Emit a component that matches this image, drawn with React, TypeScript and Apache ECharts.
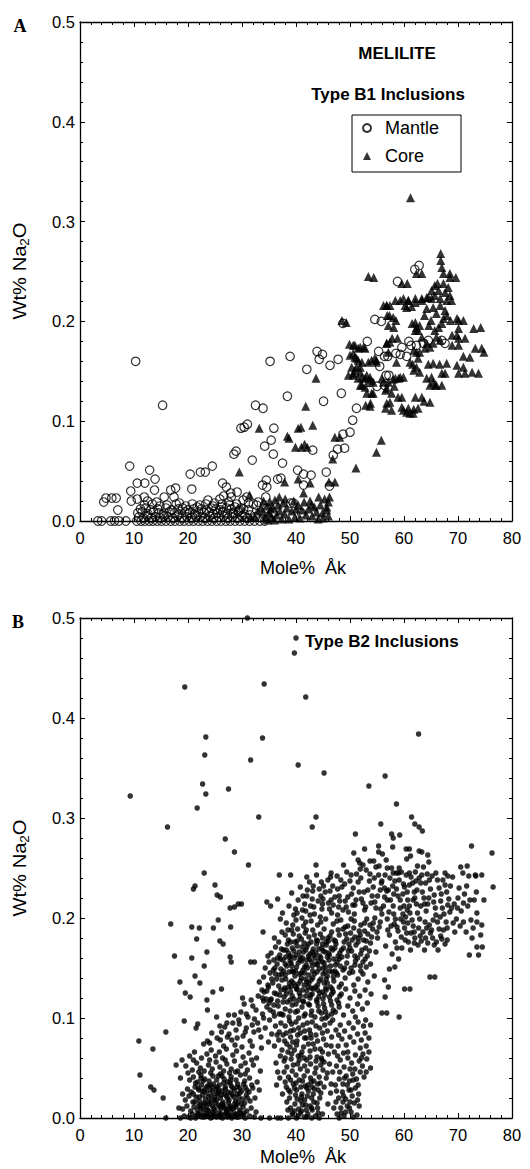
import React, { useEffect, useRef } from "react";
import * as echarts from "echarts";

const FONT = "'Liberation Sans', Arial, Helvetica, sans-serif";

const xTickValues = [0, 10, 20, 30, 40, 50, 60, 70, 80];
const yTickValues = [0, 0.1, 0.2, 0.3, 0.4, 0.5];

// Panel A, mantle (open circles): dense band near 0 wt%
const aMantleBand = [
  10.5,0, 11.3,0, 12.0,0, 12.8,0, 13.5,0, 14.3,0, 15.1,0, 15.9,0, 16.8,0, 17.6,0, 18.5,0, 19.3,0, 20.2,0,
  21.0,0, 21.9,0, 22.7,0, 23.6,0, 24.4,0, 25.3,0, 26.1,0, 27.0,0, 27.8,0, 28.7,0, 29.6,0, 30.5,0, 31.4,0,
  10.9,.004, 11.7,.003, 12.5,.005, 13.2,.003, 14.0,.004, 14.9,.003, 15.6,.005, 16.3,.004, 17.2,.003, 18.0,.005,
  18.9,.003, 19.8,.004, 20.6,.003, 21.4,.005, 22.3,.004, 23.1,.003, 24.0,.005, 24.8,.003, 25.7,.004, 26.6,.005,
  27.4,.003, 28.2,.004, 29.1,.003, 30.0,.005, 31.0,.003,
  10.7,.008, 11.5,.009, 12.6,.007, 13.6,.009, 14.6,.008, 15.4,.007, 16.5,.009, 17.5,.008, 18.3,.007, 19.4,.009,
  20.3,.008, 21.2,.007, 22.0,.009, 23.0,.008, 23.9,.009, 24.7,.007, 25.5,.008, 26.4,.009, 27.3,.007, 28.4,.008,
  29.3,.009, 30.4,.007,
  11.2,.012, 12.2,.013, 13.1,.011, 14.4,.012, 15.9,.013, 17.0,.011, 18.2,.012, 19.0,.013, 20.0,.011, 21.1,.012,
  21.7,.014, 22.5,.012, 23.4,.011, 24.3,.013, 25.2,.012, 26.0,.011, 27.1,.013, 28.0,.012, 29.8,.013, 31.2,.011,
  11.9,.016, 13.4,.017, 14.8,.015, 16.1,.016, 17.8,.017, 19.6,.015, 20.8,.017, 22.2,.016, 23.3,.017, 24.6,.015,
  26.3,.017, 27.7,.016, 29.0,.017,
];

// Panel A, mantle: scattered points
const aMantleScatter = [
  10.3,.160, 15.3,.116, 9.2,.055, 12.9,.051, 4.4,.019, 4.8,.023, 5.9,.023, 6.7,.023, 7.0,.011,
  3.3,0, 4.0,0, 5.7,0, 6.4,0, 7.2,0, 8.5,0,
  9.4,.030, 10.6,.038, 12.0,.038, 13.9,.042, 13.8,.031, 9.5,.020, 10.6,.022, 11.9,.024, 12.5,.020, 14.2,.019,
  15.6,.024, 16.8,.031, 17.7,.033, 20.4,.047, 20.7,.032, 22.3,.049, 23.2,.049, 24.5,.055, 17.4,.024, 18.4,.018,
  26.4,.038, 27.1,.034, 27.9,.028, 29.1,.029, 28.5,.067, 28.9,.070, 29.8,.093, 30.4,.094, 31.0,.097, 31.9,.061,
  32.5,.116, 33.9,.113, 34.2,.075, 35.4,.081, 35.9,.093, 35.8,.067, 37.5,.058, 35.2,.160, 38.4,.125, 38.9,.165,
  42.0,.152, 43.9,.170, 44.3,.162, 44.9,.167, 46.3,.156, 47.8,.162, 45.1,.120, 48.4,.128, 48.7,.087, 50.0,.089,
  47.7,.072, 49.0,.073, 46.9,.066, 50.5,.101, 51.2,.113, 48.7,.198, 53.2,.180, 54.6,.202, 55.8,.200, 55.3,.170,
  55.5,.155, 56.4,.165, 56.7,.146, 53.0,.139, 55.0,.135, 58.5,.168, 60.5,.165, 61.3,.176, 58.8,.240, 62.0,.252,
  62.8,.256, 57.2,.146, 56.4,.136, 53.7,.139, 62.3,.176, 63.6,.178, 64.5,.181, 67.0,.181, 67.6,.178,
  40.3,.051, 41.4,.047, 42.8,.046, 43.1,.071, 45.6,.049, 34.5,.041, 33.8,.036, 34.6,.034, 34.4,.024, 36.6,.042,
  39.0,.018, 37.2,.043, 41.4,.036, 46.2,.035, 26.6,.025, 27.5,.019, 28.7,.014, 30.2,.021, 31.2,.018, 32.7,.016,
  34.6,.013, 35.8,.008, 39.5,.018, 41.0,.008, 23.7,.021, 24.9,.018, 25.9,.022, 26.2,.014, 28.0,.024, 29.4,.010,
  30.3,.012, 31.5,.006, 32.5,.004, 33.3,0, 34.2,0, 35.0,.003, 30.9,.024, 32.1,.017, 33.0,.019, 28.4,.007,
  29.6,.011, 32.3,0, 59.3,.167, 57.0,.165, 59.6,.174, 60.9,.180,
];

// Panel A, core (filled triangles)
const aCore = [
  54.4,.244, 60.6,.238, 63.3,.248, 66.8,.268, 66.8,.261, 67.0,.254, 67.3,.248, 68.5,.248, 69.6,.244, 61.2,.324,
  66.2,.238, 67.3,.238, 68.2,.234, 66.4,.231, 67.6,.229, 68.5,.226, 65.7,.226, 65.1,.223, 66.7,.223, 67.9,.221,
  68.8,.221, 64.2,.224, 63.3,.221, 62.1,.219, 60.8,.221, 59.3,.221, 64.2,.213, 61.4,.215, 60.5,.214, 65.4,.214,
  66.7,.216, 67.6,.211, 67.9,.206, 67.3,.203, 67.0,.198, 66.4,.194, 65.7,.191, 66.0,.184, 66.7,.181, 65.4,.178,
  64.8,.174, 64.2,.178, 63.3,.184, 62.6,.191, 62.9,.196, 62.1,.199, 62.3,.194, 57.4,.216, 57.3,.206, 58.0,.204,
  58.5,.201, 58.1,.194, 58.8,.183, 57.4,.179, 56.8,.178, 69.8,.203, 71.0,.201, 74.2,.194, 70.1,.193, 69.8,.186,
  71.3,.183, 70.1,.176, 74.4,.173, 74.8,.169, 72.2,.164, 71.0,.154, 71.3,.148, 73.8,.148, 67.9,.158, 67.6,.148,
  65.4,.158, 65.1,.144, 65.4,.139, 66.0,.136, 67.0,.136, 62.9,.169, 62.6,.163, 62.3,.154, 62.9,.149, 63.9,.173,
  50.6,.176, 51.5,.173, 52.5,.174, 50.9,.164, 51.5,.161, 51.9,.154, 50.9,.151, 50.6,.146, 52.2,.144, 51.9,.136,
  52.8,.143, 53.7,.144, 54.6,.163, 54.9,.159, 54.3,.139, 56.2,.139, 57.1,.139, 58.0,.142, 59.3,.144, 59.9,.144,
  56.8,.133, 57.7,.128, 57.4,.119, 57.7,.111, 59.6,.124, 60.8,.113, 60.5,.109, 61.7,.108, 62.6,.113, 63.3,.124,
  64.8,.119, 54.0,.128, 53.8,.118, 57.1,.169, 58.6,.159, 61.1,.159, 62.3,.169, 60.2,.216, 56.8,.216, 59.6,.238,
  62.3,.248, 65.7,.236, 65.1,.231, 64.5,.224, 53.4,.245, 68.5,.244, 66.0,.208, 65.0,.201, 63.8,.206, 64.6,.196,
  56.2,.216, 56.9,.206, 57.1,.196, 57.8,.183, 58.4,.221, 59.9,.223, 60.8,.221, 62.1,.223, 63.3,.223, 61.5,.198,
  62.1,.191, 61.8,.171, 61.6,.157, 61.8,.151, 64.5,.157, 64.2,.143, 64.8,.136, 65.8,.136, 66.6,.157, 67.0,.148,
  68.9,.176, 68.9,.186, 68.6,.201, 70.1,.201, 70.1,.183, 69.8,.156, 70.1,.148, 71.0,.165, 72.9,.193, 72.6,.149,
  73.2,.173, 58.4,.143, 59.0,.143, 58.2,.135, 58.9,.124, 59.6,.114, 59.9,.111, 61.1,.108, 61.8,.112, 62.1,.124,
  63.7,.120, 55.9,.143, 56.6,.131, 56.8,.118, 56.6,.113,
  49.3,.199, 48.5,.201, 50.9,.176, 51.9,.174, 52.8,.173, 50.6,.168, 51.2,.163, 52.2,.159, 51.2,.154, 50.6,.148,
  51.9,.149, 53.1,.146, 51.5,.143, 52.2,.136, 52.8,.134, 53.7,.141, 54.3,.128, 54.9,.161, 56.8,.178, 50.0,.166,
  49.9,.177, 49.7,.146, 50.3,.154, 52.9,.116, 53.1,.128, 53.4,.159, 54.0,.161,
  43.7,.143, 41.8,.115, 33.2,.093, 38.4,.085, 38.7,.083, 40.4,.093, 40.9,.094, 43.1,.096, 39.9,.074, 41.0,.074,
  41.6,.077, 42.1,.074, 29.5,.049, 37.9,.039, 40.4,.042, 42.6,.038, 41.4,.028, 46.1,.039, 47.2,.039, 51.1,.053,
  46.2,.024, 46.0,.019, 45.7,.011, 46.8,.062, 48.1,.084, 53.7,.115, 54.9,.069, 55.8,.081, 56.8,.216, 47.2,.084,
  31.4,.026, 31.6,.004, 32.4,.004, 32.9,.010, 33.5,.013, 33.9,.009, 34.2,.003, 34.6,.015, 35.0,.008, 35.2,.019,
  35.5,.004, 35.8,.013, 36.1,.021, 36.4,.006, 36.7,.016, 37.0,.010, 37.3,.002, 37.6,.018, 37.9,.007, 38.3,.013,
  38.7,.002, 39.2,.010, 39.8,.004, 40.4,.016, 40.7,.003, 41.1,.011, 41.5,.019, 41.9,.006, 42.3,.012, 42.6,.020,
  43.0,.005, 43.4,.014, 43.8,.009, 44.1,.002, 44.5,.016, 44.9,.008, 45.3,.022, 45.7,.014, 46.0,.005, 34.0,.020,
  34.8,.001, 36.0,.001, 38.0,.022, 39.6,.020, 40.0,.012, 42.9,.016, 44.2,.024, 45.0,.003, 35.3,.012, 36.9,.024,
];

// Panel B (Type B2), outliers and sparse points
const bSparse = [
  31.0,.500, 40.0,.480, 39.7,.465, 19.4,.431, 34.1,.434, 41.8,.421, 23.3,.381, 33.8,.380, 62.7,.384, 23.1,.363,
  31.6,.358, 40.4,.353, 45.2,.345, 56.5,.342, 22.7,.334, 23.3,.324, 27.5,.329, 53.5,.332, 9.3,.322, 21.7,.310,
  58.6,.314, 33.1,.301, 43.7,.301, 61.4,.301, 16.2,.291, 43.0,.291, 62.0,.294, 62.8,.291, 63.4,.287, 55.7,.294,
  26.9,.279, 28.6,.266, 51.0,.284, 57.7,.284, 58.0,.280, 59.2,.283, 57.9,.271, 55.3,.272, 55.3,.266, 52.7,.269,
  50.7,.265, 60.4,.269, 61.0,.269, 62.8,.267, 63.3,.266, 64.4,.263, 64.6,.256, 72.5,.272, 76.3,.265, 31.2,.253,
  43.7,.253, 48.8,.253, 70.5,.251, 70.9,.245, 72.0,.242, 73.2,.243, 23.0,.245, 36.9,.243, 39.0,.243, 46.5,.245,
  67.6,.245, 68.1,.242, 51.5,.258, 51.8,.255, 53.7,.257, 54.4,.257, 56.7,.258, 56.0,.264, 58.0,.245, 59.0,.245,
  60.5,.259, 61.2,.262,
  10.9,.077, 11.1,.043, 13.5,.069, 13.1,.031, 13.7,.028, 15.4,.020, 15.9,.086, 15.9,0, 16.8,.194, 17.5,.162,
  18.5,.136, 19.5,.125, 20.4,.121, 19.3,.097, 20.7,.191, 20.7,.160, 21.0,.229, 21.3,.232, 21.3,.142, 21.6,.179,
  22.1,.190, 22.2,.135, 23.0,.152, 23.5,.166, 24.7,.190, 25.0,.233, 25.6,.198, 25.4,.223, 26.0,.221, 26.2,.129,
  26.5,.174, 25.9,.177, 27.8,.210, 27.9,.191, 27.8,.161, 28.0,.156, 29.3,.214, 31.6,.156, 34.6,.216, 33.9,.186,
  23.5,.118, 24.6,.126, 25.3,.101, 27.5,.103, 28.6,.103, 30.1,.120, 21.8,.094, 21.5,.090, 23.6,.108, 23.6,.077,
  55.9,.105, 59.1,.101, 64.8,.141, 60.1,.129, 57.3,.149, 58.3,.151, 56.4,.138, 57.1,.131, 56.5,.121, 56.8,.105,
  61.1,.129, 65.7,.141, 67.0,.179, 72.1,.163, 73.8,.163, 74.5,.171, 73.5,.171, 74.2,.183, 73.5,.196, 74.4,.193,
  74.8,.218, 76.5,.231, 71.7,.252, 74.4,.243, 73.3,.242, 32.3,.156, 29.9,.214, 28.6,.211,
];

// Panel B, low cluster near 20-33 % Åk
const bLow = [
  18.6,0, 19.3,.002, 20.1,.001, 20.8,.004, 21.4,0, 22.0,.003, 22.6,.001, 23.1,.005, 23.7,.002, 24.2,0,
  24.8,.004, 25.3,.001, 25.9,.003, 26.4,0, 27.0,.005, 27.6,.002, 28.1,0, 28.7,.004, 29.3,.001, 29.9,.003,
  30.6,0, 31.4,.002, 32.3,.001, 33.5,0, 35.1,0, 36.6,0,
  19.0,.009, 19.8,.012, 20.5,.007, 21.1,.011, 21.7,.008, 22.3,.013, 22.8,.009, 23.4,.011, 23.9,.007, 24.5,.012,
  25.0,.008, 25.6,.013, 26.1,.009, 26.7,.011, 27.2,.007, 27.8,.012, 28.4,.009, 29.0,.013, 29.6,.008, 30.2,.011,
  30.9,.007, 31.7,.010, 32.6,.006,
  19.5,.018, 20.2,.022, 20.9,.016, 21.5,.021, 22.1,.017, 22.7,.023, 23.2,.019, 23.8,.016, 24.3,.022, 24.9,.018,
  25.4,.024, 26.0,.020, 26.5,.016, 27.1,.022, 27.6,.018, 28.2,.023, 28.8,.017, 29.4,.021, 30.1,.019, 30.8,.023,
  31.5,.017, 32.4,.020,
  19.9,.029, 20.6,.026, 21.3,.031, 22.0,.028, 22.5,.033, 23.0,.027, 23.6,.032, 24.1,.028, 24.7,.034, 25.2,.029,
  25.8,.033, 26.3,.027, 26.9,.031, 27.4,.026, 28.0,.032, 28.6,.028, 29.2,.034, 29.9,.027, 30.6,.031, 31.3,.026,
  32.0,.030, 33.2,.028,
  20.3,.038, 21.0,.041, 21.8,.036, 22.4,.043, 23.1,.039, 23.9,.037, 24.6,.042, 25.3,.038, 26.0,.044, 26.7,.039,
  27.3,.036, 28.0,.041, 28.9,.038, 29.7,.043, 30.5,.037, 31.4,.040, 32.8,.036, 18.6,.040,
  19.6,.052, 20.8,.048, 21.6,.055, 22.3,.050, 23.0,.047, 23.8,.053, 24.5,.049, 25.2,.056, 25.9,.051, 26.6,.047,
  27.2,.054, 28.0,.049, 28.8,.046, 29.8,.052, 31.0,.048, 32.1,.053, 33.4,.047,
  20.3,.062, 21.2,.066, 22.5,.060, 23.5,.064, 24.3,.068, 25.1,.062, 25.8,.066, 26.4,.060, 27.1,.069, 28.3,.063,
  29.0,.067, 30.2,.061, 31.3,.065, 32.7,.060, 18.9,.058, 17.8,.053,
  22.2,.005, 23.4,.003, 24.6,.006, 25.7,.005, 26.8,.003, 27.9,.006, 29.0,.004, 22.9,.015, 24.0,.014, 25.1,.015,
  26.3,.014, 27.5,.015, 28.6,.014, 23.5,.025, 24.6,.026, 25.6,.025, 26.8,.024, 27.9,.025, 29.1,.024, 22.1,.021,
  21.8,.004, 22.9,.002, 24.0,.003, 25.0,.002, 26.1,.004, 27.3,.001, 28.4,.002, 29.6,.006, 30.2,.003,
  21.3,.016, 22.4,.010, 23.6,.008, 24.8,.010, 25.9,.011, 27.0,.009, 28.1,.010, 29.3,.016, 30.5,.015,
  21.0,.024, 22.6,.027, 23.8,.021, 25.0,.021, 26.2,.023, 27.3,.020, 28.5,.021, 29.6,.025, 31.0,.020,
  21.4,.035, 22.8,.037, 24.0,.033, 25.4,.031, 26.6,.035, 27.8,.035, 29.1,.031, 30.3,.034, 31.8,.033,
  20.0,.045, 22.0,.046, 24.2,.045, 26.3,.042, 27.7,.045, 29.2,.047, 30.6,.044,
  21.0,.058, 24.0,.058, 26.9,.058, 28.6,.057, 30.6,.055, 31.8,.058, 19.0,.024, 18.3,.010, 20.5,0,
  21.5,.002, 23.0,.001, 24.5,.001, 26.0,.001, 27.5,.003, 29.0,.001, 30.4,.005, 22.0,.012, 23.2,.014, 24.3,.017,
  25.3,.018, 26.5,.013, 27.7,.010, 28.8,.011, 29.9,.014, 21.9,.030, 23.3,.030, 24.5,.031, 25.7,.028, 26.9,.029,
  28.3,.030, 29.6,.030, 30.9,.028, 22.4,.040, 25.6,.042, 27.9,.038,
];

// Panel B, band between the low cluster and the main cloud
const bMid = [
  24.0,.075, 25.4,.080, 26.2,.086, 26.8,.091, 27.6,.084, 28.1,.078, 28.9,.088, 29.5,.094, 30.2,.082, 30.8,.090,
  31.5,.077, 32.2,.086, 32.9,.095, 33.5,.081, 34.3,.090, 35.1,.098, 33.8,.104, 34.6,.111, 32.6,.108, 31.1,.101,
  29.8,.106, 30.4,.114, 31.7,.118, 33.0,.122, 34.1,.126, 35.4,.119, 35.8,.106, 27.2,.095, 25.9,.092, 24.4,.085,
  22.9,.074, 26.6,.072, 28.7,.073, 30.0,.071, 31.9,.072, 33.6,.070, 34.9,.076, 35.5,.084, 36.2,.092,
  26.0,.078, 27.3,.081, 29.1,.080, 30.6,.086, 31.9,.093, 33.1,.088, 34.0,.100, 32.3,.099, 30.8,.104, 29.4,.098,
  28.3,.095, 35.0,.115, 34.0,.117, 32.0,.112, 36.5,.083, 36.9,.104,
];

// Panel B, column at ~37-46 % Åk
const bCol1 = [
  37.2,0, 38.6,0, 39.4,.003, 40.1,0, 40.8,.005, 41.5,.001, 42.2,.004, 42.9,0, 43.6,.002, 44.3,0,
  39.0,.010, 39.8,.014, 40.5,.009, 41.2,.013, 41.9,.008, 42.6,.012, 43.3,.016, 44.0,.010, 38.3,.016, 40.2,.019,
  41.6,.018, 42.9,.020,
  37.5,.024, 38.2,.031, 38.9,.026, 39.5,.034, 40.1,.028, 40.6,.038, 41.1,.024, 41.7,.032, 42.3,.027, 42.8,.036,
  43.4,.029, 44.0,.034, 44.6,.025, 45.2,.031, 37.0,.040, 37.8,.046, 38.6,.041, 39.3,.047, 40.0,.043, 40.8,.049,
  41.5,.042, 42.1,.047, 42.7,.040, 43.5,.045, 44.3,.041, 45.0,.048, 36.4,.033,
  36.3,.055, 37.1,.062, 37.8,.057, 38.5,.066, 39.1,.059, 39.7,.068, 40.3,.054, 40.9,.063, 41.4,.071, 42.0,.058,
  42.6,.067, 43.2,.074, 43.9,.061, 44.5,.069, 45.2,.056, 36.0,.072, 36.8,.078, 37.6,.083, 38.3,.074, 39.0,.081,
  39.6,.088, 40.2,.077, 40.8,.085, 41.3,.093, 41.9,.080, 42.5,.088, 43.0,.096, 43.7,.083, 44.4,.090, 45.1,.079,
  45.8,.087, 38.0,.092, 38.8,.097, 40.0,.096, 37.2,.095, 46.0,.064, 45.6,.073, 46.3,.095,
  39.3,.005, 40.4,.002, 41.0,.007, 42.0,.001, 43.0,.008, 44.1,.005, 38.8,.020, 39.9,.023, 41.0,.021, 42.1,.022,
  43.2,.024, 44.4,.020, 38.0,.036, 39.0,.038, 40.0,.035, 41.2,.037, 42.2,.033, 43.3,.037, 44.5,.035, 38.3,.051,
  39.5,.053, 40.6,.058, 41.6,.052, 42.7,.054, 43.7,.050, 44.6,.053, 37.4,.068, 38.9,.071, 40.1,.073, 41.1,.066,
  42.3,.074, 43.5,.069, 44.9,.066, 36.9,.086, 38.2,.085, 39.4,.076, 40.5,.090, 41.6,.087, 42.8,.080, 44.0,.077,
  45.3,.093, 39.2,.094, 42.1,.095, 44.8,.099, 36.6,.046, 45.8,.045, 46.5,.034,
  38.5,.008, 39.7,.007, 40.9,.017, 41.8,.013, 42.9,.010, 43.9,.015, 38.6,.028, 39.7,.030, 40.9,.031, 42.0,.030,
  43.0,.031, 44.1,.028, 38.0,.060, 39.2,.064, 40.4,.062, 41.5,.060, 42.6,.061, 43.7,.057, 44.7,.060, 37.9,.077,
  39.0,.087, 40.3,.083, 41.6,.080, 42.7,.084, 43.7,.092, 44.9,.085, 45.5,.100, 37.6,.103, 38.9,.107, 40.3,.107,
  41.5,.102, 42.8,.103, 44.2,.107, 45.5,.106, 46.8,.098, 46.9,.108,
];

// Panel B, column at ~47-54 % Åk
const bCol2 = [
  47.6,.004, 48.3,.010, 48.9,.002, 49.5,.012, 50.2,.006, 50.8,.015, 51.3,.003, 47.9,.020, 48.6,.026, 49.2,.019,
  49.8,.028, 50.4,.022, 51.0,.030, 51.6,.024, 47.3,.033, 48.0,.039, 48.7,.034, 49.3,.042, 49.9,.037, 50.5,.044,
  51.2,.039, 51.9,.046, 52.6,.041, 46.8,.046, 47.5,.052, 48.2,.058, 48.9,.051, 49.6,.060, 50.3,.055, 51.0,.063,
  51.7,.057, 52.4,.064, 53.1,.059, 53.8,.050, 53.5,.066, 47.1,.066, 47.8,.072, 48.5,.079, 49.3,.073, 50.0,.081,
  50.7,.076, 51.4,.084, 52.1,.078, 52.8,.085, 53.5,.080, 46.6,.081, 47.4,.088, 48.2,.093, 49.0,.087, 49.8,.095,
  50.6,.090, 51.5,.096, 52.5,.092, 45.9,.014, 46.4,.025, 44.9,.004, 45.6,.040, 44.8,.058, 46.2,.054, 53.0,.072,
  53.8,.093,
  48.0,0, 49.2,.006, 50.6,.001, 48.7,.016, 50.0,.016, 51.7,.012, 47.5,.027, 49.5,.033, 50.9,.049, 52.3,.052,
  48.1,.046, 47.9,.083, 49.6,.066, 51.9,.070, 52.9,.098, 51.0,.101, 46.6,.104,
  47.0,.010, 48.4,.005, 49.9,.010, 51.4,.018, 47.4,.016, 48.8,.022, 50.2,.028, 51.5,.033, 49.0,.040, 50.6,.038,
  47.7,.062, 50.0,.049, 52.1,.060, 53.0,.046, 46.5,.072, 48.8,.065,
];

// Panel B, main cloud 0.10-0.20 wt%
const bCore = [
  35.2,.108, 36.0,.102, 36.7,.112, 37.3,.104, 38.0,.109, 38.7,.101, 39.3,.113, 39.9,.106, 40.5,.100, 41.1,.111,
  41.7,.104, 42.3,.114, 42.9,.107, 43.5,.101, 44.1,.112, 44.7,.105, 45.3,.110, 45.9,.102, 46.6,.113, 47.3,.106,
  48.0,.111, 48.8,.103, 49.6,.112, 50.5,.107, 51.4,.114, 52.3,.109, 53.2,.115,
  33.8,.120, 34.6,.127, 35.3,.118, 36.0,.125, 36.6,.117, 37.2,.128, 37.8,.121, 38.4,.116, 39.0,.126, 39.6,.119,
  40.2,.129, 40.8,.122, 41.4,.116, 42.0,.127, 42.6,.120, 43.2,.129, 43.8,.118, 44.4,.125, 45.0,.119, 45.6,.128,
  46.2,.121, 46.9,.126, 47.6,.118, 48.4,.124, 49.2,.129, 50.0,.120, 50.9,.127, 51.8,.122, 52.8,.128, 53.9,.124,
  33.2,.136, 34.0,.141, 34.8,.133, 35.5,.139, 36.2,.144, 36.8,.132, 37.4,.138, 38.0,.143, 38.6,.131, 39.2,.137,
  39.8,.142, 40.4,.134, 41.0,.140, 41.6,.145, 42.2,.131, 42.8,.138, 43.4,.144, 44.0,.133, 44.6,.139, 45.2,.135,
  45.8,.142, 46.4,.131, 47.0,.137, 47.7,.143, 48.4,.134, 49.1,.140, 49.9,.145, 50.7,.133, 51.5,.139, 52.4,.144,
  53.3,.136, 54.5,.142,
  34.3,.150, 35.0,.156, 35.8,.148, 36.5,.154, 37.1,.159, 37.7,.147, 38.3,.152, 38.9,.157, 39.5,.146, 40.1,.151,
  40.7,.158, 41.3,.148, 41.9,.153, 42.5,.159, 43.1,.147, 43.7,.154, 44.3,.149, 44.9,.156, 45.5,.151, 46.1,.158,
  46.7,.146, 47.3,.153, 48.0,.159, 48.7,.148, 49.4,.155, 50.2,.150, 51.0,.157, 51.9,.152, 52.8,.159, 53.8,.154,
  35.4,.165, 36.2,.171, 37.0,.163, 37.7,.168, 38.4,.174, 39.0,.162, 39.6,.167, 40.2,.172, 40.8,.161, 41.4,.166,
  42.0,.171, 42.6,.164, 43.2,.169, 43.8,.174, 44.4,.162, 45.0,.167, 45.6,.173, 46.2,.163, 46.8,.168, 47.4,.174,
  48.1,.165, 48.8,.170, 49.5,.162, 50.3,.167, 51.1,.173, 52.0,.164, 52.9,.170, 53.8,.175, 54.8,.166,
  36.0,.180, 37.4,.186, 38.6,.178, 39.5,.184, 40.3,.189, 41.0,.179, 41.7,.185, 42.4,.181, 43.1,.188, 43.8,.178,
  44.5,.184, 45.2,.189, 45.9,.180, 46.6,.186, 47.3,.177, 48.0,.183, 48.7,.189, 49.4,.179, 50.1,.185, 50.9,.181,
  51.7,.187, 52.5,.178, 53.3,.184, 54.2,.189, 55.1,.180,
  38.2,.195, 40.0,.198, 41.4,.192, 42.8,.197, 44.0,.193, 45.5,.199, 46.9,.194, 48.3,.198, 49.6,.192, 50.8,.197,
  52.0,.193, 53.1,.199, 54.3,.195, 55.4,.191,
  38.8,.135, 39.9,.132, 41.2,.128, 42.4,.135, 43.6,.131, 44.9,.126, 39.3,.147, 40.6,.144, 41.8,.139, 43.0,.152,
  44.2,.157, 45.4,.146, 38.1,.161, 39.7,.160, 41.1,.157, 42.3,.162, 43.5,.160, 44.8,.170, 46.0,.165, 37.2,.149,
  36.4,.139, 38.0,.128, 40.5,.118, 42.7,.123, 45.8,.135, 47.2,.147, 47.8,.162,
];

// Panel B, extra density in the heart of the main cloud
const bCoreDense = [
  37.6,.116, 38.9,.118, 40.0,.114, 41.3,.117, 42.5,.113, 43.9,.116, 45.1,.114, 46.4,.117, 47.9,.115,
  37.0,.123, 38.2,.124, 39.3,.122, 40.6,.125, 41.8,.122, 43.0,.124, 44.2,.121, 45.3,.123, 46.6,.124, 48.1,.122,
  37.9,.130, 39.1,.131, 40.1,.129, 41.5,.133, 42.8,.130, 44.0,.128, 45.5,.130, 46.7,.129, 48.0,.131,
  38.1,.139, 39.5,.135, 40.8,.137, 42.0,.136, 43.1,.140, 44.3,.137, 45.6,.139, 46.9,.141,
  37.4,.144, 38.7,.146, 39.9,.147, 41.0,.145, 42.4,.143, 43.9,.146, 45.0,.144, 46.2,.147, 47.5,.145,
  38.0,.154, 39.2,.152, 40.4,.155, 41.6,.151, 42.9,.156, 44.0,.153, 45.2,.155, 46.4,.152, 47.6,.156,
  37.6,.158, 38.8,.161, 40.0,.163, 41.2,.160, 42.0,.158, 43.3,.163, 44.6,.160, 45.8,.161, 47.0,.159,
  38.2,.168, 39.3,.170, 40.6,.166, 41.8,.168, 43.0,.166, 44.2,.169, 45.4,.166, 46.5,.170, 48.4,.168,
  39.0,.176, 40.2,.177, 41.5,.175, 42.8,.176, 44.0,.177, 45.6,.176, 47.0,.178, 49.8,.174, 51.5,.176,
  34.9,.131, 35.7,.135, 36.9,.143, 36.1,.150, 35.2,.145, 33.7,.128, 34.5,.119, 35.9,.113, 36.4,.124, 49.0,.150,
  50.5,.146, 51.4,.160, 52.2,.168, 53.2,.162, 54.0,.181, 52.7,.187, 50.7,.190, 49.2,.184, 48.9,.176, 50.0,.170,
  51.6,.180, 53.7,.193, 54.6,.200, 55.6,.196,
  36.8,.176, 38.0,.183, 39.2,.188, 40.6,.182, 41.9,.188, 43.4,.183, 44.9,.180, 46.3,.182, 47.8,.188, 49.1,.191,
  50.4,.178, 51.9,.183, 53.0,.177, 37.3,.169, 38.6,.165, 39.8,.176, 41.1,.171, 42.3,.174, 43.7,.165, 44.9,.174,
  46.0,.177, 47.2,.170, 48.5,.161, 49.7,.167, 50.9,.162, 52.4,.156, 53.6,.167, 39.4,.193, 41.8,.196, 44.6,.196,
  47.6,.197, 50.2,.199, 52.7,.195, 55.0,.186, 55.9,.204, 36.6,.160, 35.9,.158, 34.8,.162, 39.1,.155, 42.1,.150,
  45.0,.150, 48.2,.152, 50.9,.153, 52.0,.147, 53.0,.151,
];

// Panel B, upper ridge 0.20-0.26 wt%
const bRidge = [
  37.5,.205, 38.7,.212, 39.6,.203, 40.4,.218, 41.2,.208, 42.0,.222, 42.7,.212, 43.4,.204, 44.1,.217, 44.8,.209,
  45.4,.226, 46.0,.215, 46.6,.205, 47.2,.221, 47.9,.211, 48.5,.231, 49.1,.217, 49.7,.206, 50.3,.224, 50.9,.213,
  51.5,.236, 52.1,.219, 52.7,.208, 53.3,.228, 53.9,.215, 54.5,.240, 55.1,.222, 55.7,.209, 40.8,.231, 42.5,.236,
  44.3,.229, 45.9,.238, 47.6,.242, 49.4,.246, 51.2,.244, 53.0,.248, 54.8,.251, 39.2,.225, 43.8,.243, 46.8,.232,
  50.0,.237, 52.4,.253, 36.6,.219, 35.3,.212,
  39.9,.209, 41.6,.214, 43.0,.219, 44.6,.222, 46.3,.227, 47.7,.229, 49.0,.234, 50.6,.230, 52.0,.240, 53.6,.237,
  55.3,.243, 41.1,.200, 42.6,.203, 44.5,.201, 46.2,.209, 47.7,.203, 49.3,.211, 50.8,.204, 52.4,.215, 54.1,.222,
  55.6,.228, 48.1,.217, 51.7,.226, 54.8,.210, 45.1,.232, 42.1,.228, 38.5,.188, 37.1,.199,
  40.2,.205, 41.8,.207, 43.3,.211, 44.9,.214, 46.5,.218, 48.0,.222, 49.6,.221, 51.1,.218, 52.6,.226, 54.3,.231,
  55.9,.237, 41.3,.222, 43.1,.227, 45.0,.219, 46.9,.213, 48.7,.208, 50.5,.213, 52.9,.211, 54.6,.216, 56.4,.221,
  56.9,.250, 55.4,.252, 53.7,.244, 51.9,.249, 50.2,.243, 48.3,.238, 46.4,.241, 44.7,.236, 43.2,.232, 42.0,.241,
];

// Panel B, upper-right group 55-76 % Åk
const bUpper = [
  55.8,.235, 56.5,.243, 57.1,.228, 57.7,.250, 58.3,.237, 58.9,.222, 59.5,.246, 60.1,.231, 60.7,.218, 61.3,.241,
  61.9,.226, 62.5,.252, 63.1,.235, 63.7,.220, 64.3,.244, 64.9,.229, 65.5,.216, 66.2,.238, 66.9,.224, 67.6,.233,
  68.3,.219, 69.0,.241, 56.2,.212, 56.9,.199, 57.5,.218, 58.1,.204, 58.7,.191, 59.3,.210, 59.9,.196, 60.5,.185,
  61.1,.205, 61.7,.192, 62.3,.214, 62.9,.199, 63.5,.186, 64.1,.207, 64.7,.193, 65.3,.180, 65.9,.203, 66.5,.189,
  67.1,.210, 67.8,.196, 68.5,.206, 69.3,.214, 70.0,.220, 70.6,.207, 71.2,.224, 71.8,.212, 72.4,.198, 73.0,.218,
  70.4,.192, 71.5,.186, 72.6,.180, 69.7,.199, 57.3,.183, 58.4,.176, 59.6,.170, 60.8,.176, 62.0,.180, 63.2,.177,
  64.4,.175, 65.6,.173, 66.8,.182, 57.8,.164, 59.0,.159, 56.6,.172, 60.3,.201, 61.5,.198, 62.7,.190, 59.8,.224,
  61.0,.233, 62.4,.228, 63.8,.214, 58.0,.212, 60.0,.212,
  56.8,.227, 57.9,.232, 59.1,.238, 60.4,.243, 61.6,.235, 62.8,.240, 64.0,.235, 65.2,.242, 66.5,.230, 67.9,.226,
  57.2,.206, 58.4,.199, 59.8,.204, 61.0,.212, 62.0,.220, 63.4,.226, 64.6,.220, 65.8,.210, 67.4,.204, 68.8,.210,
  57.6,.192, 58.9,.187, 60.1,.190, 61.3,.185, 62.5,.205, 63.9,.196, 65.1,.188, 66.2,.196, 67.3,.188, 68.0,.178,
  59.5,.181, 61.9,.175, 63.8,.168, 64.9,.185, 66.0,.176, 58.6,.229, 60.6,.226, 62.1,.246, 63.6,.251, 59.1,.250,
  70.2,.230, 71.6,.232, 72.2,.218, 73.5,.205, 71.0,.196, 69.4,.186, 72.8,.190, 73.4,.226,
  56.4,.230, 57.4,.240, 58.6,.245, 59.9,.234, 61.0,.245, 62.2,.237, 63.3,.243, 64.7,.238, 65.9,.245, 67.2,.238,
  68.6,.232, 56.9,.218, 58.1,.224, 59.3,.218, 60.6,.208, 61.7,.218, 63.1,.212, 64.4,.214, 65.6,.223, 66.8,.217,
  68.1,.213, 57.0,.188, 58.2,.194, 59.4,.199, 60.7,.195, 61.9,.186, 63.0,.182, 64.2,.190, 65.4,.198, 66.7,.201,
  68.0,.190, 69.1,.195, 60.2,.178, 62.6,.173, 64.0,.180, 61.2,.168, 58.7,.170, 66.3,.168, 67.6,.174, 69.9,.210,
  71.0,.215,
];

function pairs(flat: number[]): number[][] {
  const out: number[][] = [];
  for (let i = 0; i + 1 < flat.length; i += 2) out.push([flat[i], flat[i + 1]]);
  return out;
}

function xAxisFor(gridIndex: number, bottom: boolean, nameGap: number) {
  return {
    type: "value",
    gridIndex,
    position: bottom ? "bottom" : "top",
    min: xTickValues[0],
    max: xTickValues[xTickValues.length - 1],
    interval: 10,
    axisLine: { show: true, onZero: false, lineStyle: { color: "#000", width: 1.3 } },
    axisTick: { show: true, inside: true, length: 5, lineStyle: { color: "#000", width: 1 } },
    minorTick: { show: true, splitNumber: 5, length: 3, lineStyle: { color: "#000", width: 1 } },
    axisLabel: { show: bottom, color: "#000", fontSize: 16.5, fontFamily: FONT, margin: 8 },
    splitLine: { show: false },
    minorSplitLine: { show: false },
    name: bottom ? "Mole%  Åk" : "",
    nameLocation: "middle",
    nameGap,
    nameMoveOverlap: false,
    nameTextStyle: { color: "#000", fontSize: 18, fontFamily: FONT, padding: [0, 0, 0, 14] },
  };
}

function yAxisFor(gridIndex: number, left: boolean) {
  return {
    type: "value",
    gridIndex,
    position: left ? "left" : "right",
    min: yTickValues[0],
    max: yTickValues[yTickValues.length - 1],
    interval: 0.1,
    axisLine: { show: true, onZero: false, lineStyle: { color: "#000", width: 1.3 } },
    axisTick: { show: true, inside: true, length: 5, lineStyle: { color: "#000", width: 1 } },
    minorTick: { show: true, splitNumber: 5, length: 3, lineStyle: { color: "#000", width: 1 } },
    axisLabel: {
      show: left,
      color: "#000",
      fontSize: 16.5,
      fontFamily: FONT,
      margin: 5,
      formatter: (v: number) => v.toFixed(1),
    },
    splitLine: { show: false },
    minorSplitLine: { show: false },
  };
}

function yTitle(cx: number, cy: number) {
  return {
    type: "text",
    x: cx,
    y: cy,
    rotation: Math.PI / 2,
    scaleX: 1.12,
    silent: true,
    style: {
      text: "{n|Wt% Na}{s|2}{n|O}",
      align: "center",
      verticalAlign: "middle",
      fill: "#000",
      rich: {
        n: { fontSize: 18, fontFamily: FONT, fill: "#000", lineHeight: 22, verticalAlign: "middle" },
        s: { fontSize: 12, fontFamily: FONT, fill: "#000", lineHeight: 12, verticalAlign: "bottom" },
      },
    },
  };
}

export default function App() {
  const ref = useRef<HTMLDivElement>(null);

  useEffect(() => {
    if (!ref.current) return;
    const chart = echarts.init(ref.current, undefined, { renderer: "svg" });
    const mantle = pairs(aMantleBand).concat(pairs(aMantleScatter));
    const core = pairs(aCore);
    const b2 = [bSparse, bLow, bMid, bCol1, bCol2, bCore, bCoreDense, bRidge, bUpper]
      .map(pairs)
      .reduce((acc, cur) => acc.concat(cur), [] as number[][]);

    const option: any = {
      animation: false,
      backgroundColor: "#fff",
      grid: [
        { left: 80, top: 22, width: 432, height: 499, containLabel: false, outerBoundsMode: "none" },
        { left: 80, top: 618, width: 432, height: 500, containLabel: false, outerBoundsMode: "none" },
      ],
      xAxis: [xAxisFor(0, true, 38), xAxisFor(0, false, 0), xAxisFor(1, true, 30), xAxisFor(1, false, 0)],
      yAxis: [yAxisFor(0, true), yAxisFor(0, false), yAxisFor(1, true), yAxisFor(1, false)],
      legend: {
        data: ["Mantle", "Core"],
        orient: "vertical",
        left: 352,
        top: 115,
        itemWidth: 8,
        itemHeight: 8,
        itemGap: 10,
        padding: [4, 22, 7, 10],
        borderColor: "#000",
        borderWidth: 1,
        borderRadius: 0,
        selectedMode: false,
        textStyle: { color: "#000", fontSize: 18, fontFamily: FONT, padding: [0, 0, 0, 9] },
      },
      graphic: [
        { type: "text", x: 20, y: 26, silent: true, style: { text: "A", fill: "#000", font: "bold 18px 'Liberation Serif', 'Times New Roman', serif", align: "center", verticalAlign: "middle" } },
        { type: "text", x: 18, y: 622, silent: true, style: { text: "B", fill: "#000", font: "bold 18px 'Liberation Serif', 'Times New Roman', serif", align: "center", verticalAlign: "middle" } },
        { type: "text", x: 397, y: 53, silent: true, style: { text: "MELILITE", fill: "#000", font: `bold 17px ${FONT}`, align: "center", verticalAlign: "middle" } },
        { type: "text", x: 388, y: 94, silent: true, style: { text: "Type B1 Inclusions", fill: "#000", font: `bold 17px ${FONT}`, align: "center", verticalAlign: "middle" } },
        { type: "text", x: 305, y: 641, silent: true, style: { text: "Type B2 Inclusions", fill: "#000", font: `bold 17px ${FONT}`, align: "left", verticalAlign: "middle" } },
        yTitle(20, 271),
        yTitle(20, 868),
      ],
      series: [
        {
          type: "scatter",
          name: "Mantle",
          xAxisIndex: 0,
          yAxisIndex: 0,
          data: mantle,
          symbol: "circle",
          symbolSize: 8.5,
          itemStyle: { color: "rgba(255,255,255,0)", borderColor: "#000", borderWidth: 1.2 },
          emphasis: { disabled: true },
          silent: true,
        },
        {
          type: "scatter",
          name: "Core",
          xAxisIndex: 0,
          yAxisIndex: 0,
          data: core,
          symbol: "triangle",
          symbolSize: 9,
          itemStyle: { color: "#000" },
          emphasis: { disabled: true },
          silent: true,
        },
        {
          type: "scatter",
          name: "Type B2",
          xAxisIndex: 2,
          yAxisIndex: 2,
          data: b2,
          symbol: "circle",
          symbolSize: 5.5,
          itemStyle: { color: "#000" },
          emphasis: { disabled: true },
          silent: true,
          large: false,
        },
      ],
    };
    chart.setOption(option);
    return () => chart.dispose();
  }, []);

  return (
    <div
      ref={ref}
      style={{ position: "absolute", left: 0, top: 0, width: 530, height: 1169, background: "#fff" }}
    />
  );
}
